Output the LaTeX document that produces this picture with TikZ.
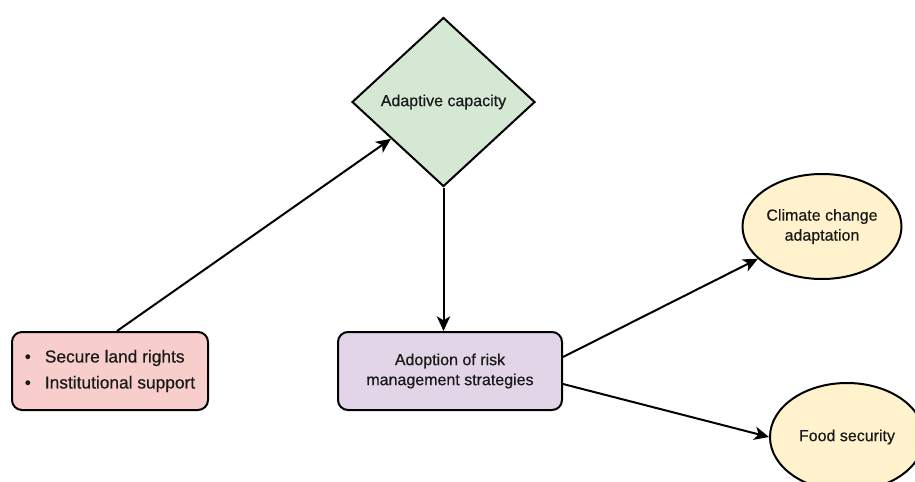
\documentclass[tikz,border=0pt]{standalone}
\usepackage{fontspec}
\setmainfont{Liberation Sans}[BoldFont=Liberation Sans, BoldFeatures={FakeBold=0.5}]
\usepackage{xcolor}
\usetikzlibrary{shapes.geometric, positioning, arrows, arrows.meta}
\definecolor{tenurered}{HTML}{F8CECC}
\definecolor{capgreen}{HTML}{D5E8D4}
\definecolor{riskpurple}{HTML}{E1D5E7}
\definecolor{outyellow}{HTML}{FFF2CC}
\tikzset{->,>={Stealth[length=11pt,width=10pt,inset=3pt]},
every node/.style={font=\fontsize{12}{15}\selectfont\bfseries, text=black!90},
box/.style={draw, rounded corners=7.5pt, minimum height=58.5pt, align=center},
outcome/.style={draw, ellipse, fill=outyellow, inner sep=0pt, align=center}}

\begin{document}
\begin{tikzpicture}[x=0.75pt,y=-0.75pt,line width=1.5pt]
\clip (0,0) rectangle (915,482);
\node[box,fill=tenurered,minimum width=147pt,align=left,font=\fontsize{13}{16}\selectfont\bfseries] (tenure) at (110,371)
  {\textbullet\hspace{10.5pt}Secure land rights\\[3.5pt]\textbullet\hspace{10.5pt}Institutional support};
\node[diamond,draw,fill=capgreen,inner sep=0pt,minimum width=137.25pt,minimum height=126.75pt] (adapt) at (443.5,102) {Adaptive capacity};
\node[box,fill=riskpurple,minimum width=168pt] (risk) at (450,371) {Adoption of risk\\management strategies};
\node[outcome,minimum width=119.25pt,minimum height=78.75pt] (climate) at (822,226.5) {Climate change\\adaptation};
\node[outcome,minimum width=115.5pt,minimum height=81pt] (food) at (847,437) {Food security};
\draw ([xshift=5.25pt]tenure.north) -- (adapt);
\draw (adapt.south) -- (adapt.south |- risk.north);
\draw ([yshift=10.5pt]risk.east) -- (climate);
\draw ([yshift=-9.75pt]risk.east) -- (food.west);
\end{tikzpicture}
\end{document}
